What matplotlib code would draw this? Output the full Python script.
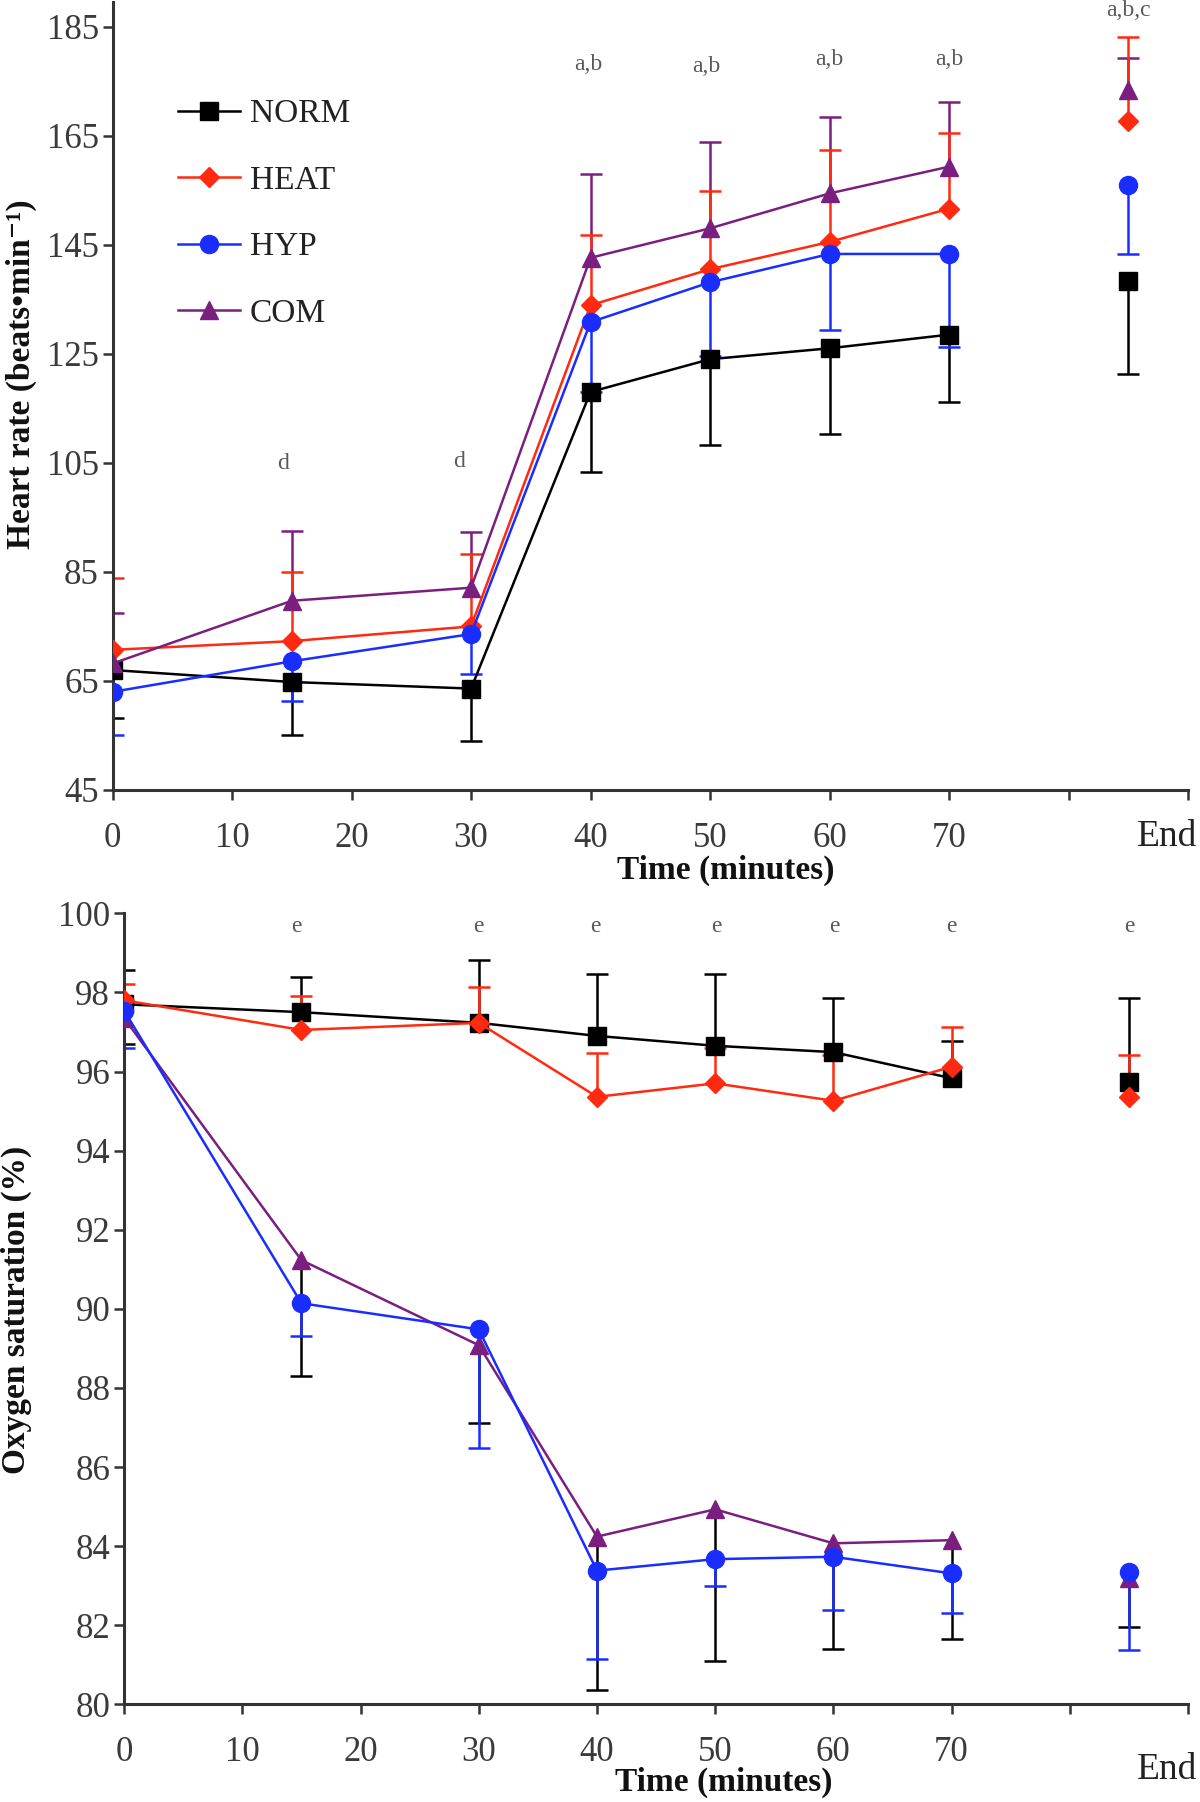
import numpy as np
import matplotlib
matplotlib.use('Agg')
import matplotlib.pyplot as plt

plt.rcParams['font.family'] = ['Liberation Serif', 'DejaVu Serif']

# ---------------- data ----------------
time = [0, 15, 30, 40, 50, 60, 70, 85]
xticks = [0, 10, 20, 30, 40, 50, 60, 70, 80, 90]
xticklabels = ['0', '10', '20', '30', '40', '50', '60', '70', '', '']
groups = ['NORM', 'HEAT', 'HYP', 'COM']

# Heart rate (beats/min)
hr_norm = [67.0, 64.8, 63.6, 118.0, 124.0, 126.0, 128.5, 138.3]
hr_norm_err = [8.8, 9.7, 9.7, 14.7, 15.8, 15.8, 12.3, 17.1]
hr_heat = [70.7, 72.3, 75.0, 133.9, 140.5, 145.5, 151.6, 167.7]
hr_heat_err = [13.1, 12.7, 13.2, 12.9, 14.4, 16.8, 13.8, 15.4]
hr_hyp = [63.0, 68.6, 73.6, 130.8, 138.1, 143.3, 143.3, 155.9]
hr_hyp_err = [7.9, 7.3, 7.4, 12.8, 13.5, 14.0, 17.0, 12.6]
hr_com = [68.2, 79.7, 82.1, 142.6, 148.0, 154.4, 159.3, 173.4]
hr_com_err = [9.2, 12.8, 10.3, 15.3, 15.9, 14.0, 11.8, 5.8]

hr_yticks = [45, 65, 85, 105, 125, 145, 165, 185]
hr_notes = ['d', 'd', 'a,b', 'a,b', 'a,b', 'a,b', 'a,b,c']
hr_note_x = [14.3, 29.0, 39.8, 49.7, 60.0, 70.0, 85.0]
hr_note_y = [104.8, 105.3, 178.0, 177.7, 178.9, 178.9, 187.9]

# Oxygen saturation (%)
sp_norm = [97.7, 97.5, 97.23, 96.9, 96.65, 96.49, 95.83, 95.74]
sp_norm_err = [0.87, 0.9, 1.59, 1.57, 1.82, 1.36, 0.95, 2.11]
sp_heat = [97.8, 97.05, 97.23, 95.36, 95.70, 95.26, 96.12, 95.36]
sp_heat_err = [0.4, 0.85, 0.9, 1.12, 0.9, 1.15, 1.01, 1.06]
sp_hyp = [97.54, 90.14, 89.48, 83.38, 83.67, 83.73, 83.31, 83.35]
sp_hyp_err = [0.94, 0.83, 2.99, 2.24, 0.67, 1.35, 0.99, 1.98]
sp_com = [97.35, 91.23, 89.08, 84.24, 84.93, 84.07, 84.15, 83.19]
sp_com_err = [0.65, 2.93, 1.98, 3.88, 3.83, 2.68, 2.51, 1.23]

sp_yticks = [80, 82, 84, 86, 88, 90, 92, 94, 96, 98, 100]
sp_notes = ['e', 'e', 'e', 'e', 'e', 'e', 'e']
sp_note_x = [14.6, 30.0, 39.9, 50.1, 60.1, 70.0, 85.0]
sp_note_y = [99.66, 99.66, 99.66, 99.66, 99.66, 99.66, 99.66]

# ---------------- styles ----------------
colors = {'NORM': '#000000', 'HEAT': '#ff2a10', 'HYP': '#1a2dff', 'COM': '#7a1f80'}
markers = {'NORM': 's', 'HEAT': 'D', 'HYP': 'o', 'COM': '^'}
msizes = {'NORM': 13, 'HEAT': 10, 'HYP': 13, 'COM': 13}
axcol = '#333333'
tickcol = '#3a3a3a'
notecol = '#5a5a5a'

W, H = 1200, 1802
fig = plt.figure(figsize=(W / 100, H / 100), dpi=100)


def px_ax(l, t, r, b):
    return [l / W, 1 - b / H, (r - l) / W, (b - t) / H]


ax1 = fig.add_axes(px_ax(112.6, 2, 1188, 790))
ax2 = fig.add_axes(px_ax(124.1, 913.3, 1188, 1704.3))


def style_axis(ax, yticks, ylim):
    for s in ['top', 'right']:
        ax.spines[s].set_visible(False)
    for s in ['left', 'bottom']:
        ax.spines[s].set_color(axcol)
        ax.spines[s].set_linewidth(2.2)
    ax.set_xlim(0, 90)
    ax.set_ylim(*ylim)
    ax.set_xticks(xticks)
    ax.set_xticklabels(xticklabels)
    ax.set_yticks(yticks)
    ax.tick_params(axis='x', direction='out', length=7, width=1.8, color=axcol,
                   labelsize=25, labelcolor=tickcol, pad=16)
    ax.tick_params(axis='y', direction='out', length=7, width=1.8, color=axcol,
                   labelsize=25, labelcolor=tickcol, pad=3)


def draw(ax, data, errs, sides, barcolors, bar_order, line_order):
    for k, g in enumerate(bar_order):
        y = np.array(data[g])
        e = np.array(errs[g])
        z = np.zeros_like(e)
        yerr = [z, e] if sides[g] == 'up' else [e, z]
        cont = ax.errorbar(time, y, yerr=yerr, fmt='none', ecolor=barcolors[g],
                           elinewidth=1.8, capsize=8, capthick=1.8, zorder=2 + k * 0.1)
        caps = cont[1]
        hide = caps[0] if sides[g] == 'up' else caps[1]
        hide.set_visible(False)
    handles = {}
    for k, g in enumerate(line_order):
        ln, = ax.plot(time[:-1], data[g][:-1], color=colors[g], marker=markers[g],
                      ms=msizes[g], lw=1.8, zorder=4 + k, label=g)
        ax.plot(time[-1:], data[g][-1:], color=colors[g], marker=markers[g],
                ms=msizes[g], lw=0, zorder=4 + k)
        handles[g] = ln
    return handles


# ---- top: heart rate ----
style_axis(ax1, hr_yticks, (45, 189.5))
hr_data = {'NORM': hr_norm, 'HEAT': hr_heat, 'HYP': hr_hyp, 'COM': hr_com}
hr_errs = {'NORM': hr_norm_err, 'HEAT': hr_heat_err, 'HYP': hr_hyp_err, 'COM': hr_com_err}
hr_sides = {'NORM': 'down', 'HEAT': 'up', 'HYP': 'down', 'COM': 'up'}
h1 = draw(ax1, hr_data, hr_errs, hr_sides, colors,
          ['COM', 'NORM', 'HEAT', 'HYP'], ['NORM', 'HEAT', 'HYP', 'COM'])
for t, x, y in zip(hr_notes, hr_note_x, hr_note_y):
    ax1.text(x, y, t, ha='center', va='center', fontsize=17, color=notecol)

leg = ax1.legend([h1[g] for g in groups], groups, loc='upper left',
                 bbox_to_anchor=(0.061, 0.877), frameon=False, fontsize=24,
                 handlelength=1.85, handletextpad=0.3, labelspacing=1.08,
                 borderpad=0, borderaxespad=0)
for txt in leg.get_texts():
    txt.set_color('#222222')

# ---- bottom: oxygen saturation ----
style_axis(ax2, sp_yticks, (80, 100))
sp_data = {'NORM': sp_norm, 'HEAT': sp_heat, 'HYP': sp_hyp, 'COM': sp_com}
sp_errs = {'NORM': sp_norm_err, 'HEAT': sp_heat_err, 'HYP': sp_hyp_err, 'COM': sp_com_err}
sp_sides = {'NORM': 'up', 'HEAT': 'up', 'HYP': 'down', 'COM': 'down'}
sp_barcolors = {'NORM': '#000000', 'HEAT': colors['HEAT'], 'HYP': colors['HYP'], 'COM': '#000000'}
draw(ax2, sp_data, sp_errs, sp_sides, sp_barcolors,
     ['COM', 'NORM', 'HEAT', 'HYP'], ['NORM', 'HEAT', 'COM', 'HYP'])
for t, x, y in zip(sp_notes, sp_note_x, sp_note_y):
    ax2.text(x, y, t, ha='center', va='center', fontsize=17, color=notecol)


# ---- labels ----
def fx(p):
    return p / W


def fy(p):
    return 1 - p / H


fig.text(fx(21), fy(374), 'Heart rate (beats\u2022min\u207b\u00b9)', rotation=90,
         ha='center', va='center', fontsize=24, fontweight='bold', color='#111111')
fig.text(fx(16), fy(1310), 'Oxygen saturation (%)', rotation=90,
         ha='center', va='center', fontsize=24, fontweight='bold', color='#111111')
fig.text(fx(726), fy(870), 'Time (minutes)', ha='center', va='center',
         fontsize=24, fontweight='bold', color='#111111')
fig.text(fx(724), fy(1782), 'Time (minutes)', ha='center', va='center',
         fontsize=24, fontweight='bold', color='#111111')
fig.text(fx(1167), fy(837), 'End', ha='center', va='center', fontsize=27, color='#222222')
fig.text(fx(1167), fy(1770), 'End', ha='center', va='center', fontsize=27, color='#222222')

fig.savefig('out.png', dpi=100)
